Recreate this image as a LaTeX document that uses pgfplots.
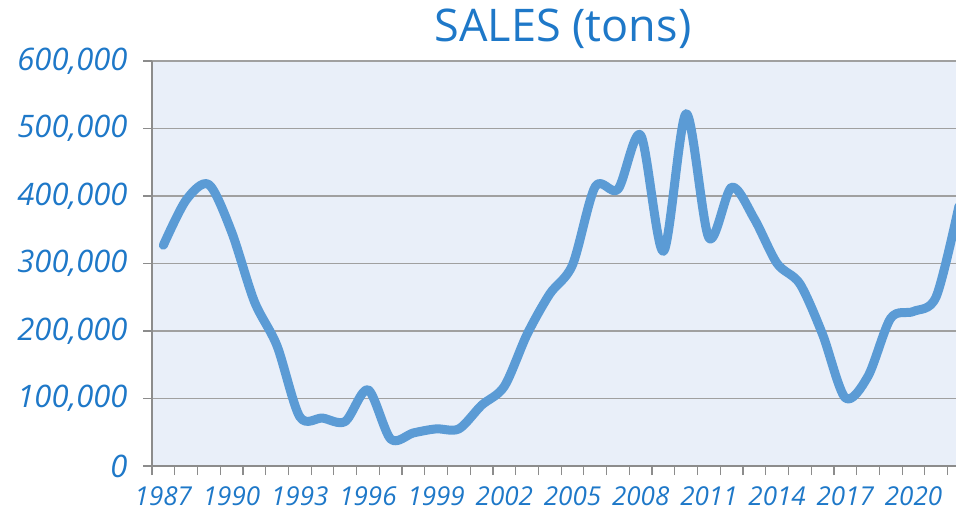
\documentclass[border=0pt]{standalone}
\usepackage{fontspec}
\setmainfont{Open Sans}
\usepackage{pgfplots}
\pgfplotsset{compat=1.18}
\definecolor{tblue}{RGB}{30,120,200}
\definecolor{bgblue}{RGB}{233,239,249}
\definecolor{gridgray}{RGB}{160,160,160}
\definecolor{axisgray}{RGB}{140,140,140}
\definecolor{lineblue}{RGB}{91,155,213}
\pgfplotstableread{
year sales
1987 327000
1988 394000
1989 417000
1990 347000
1991 244000
1992 178000
1993 73000
1994 71000
1995 66000
1996 113000
1997 40000
1998 49000
1999 55000
2000 55000
2001 90000
2002 118000
2003 195000
2004 255000
2005 298000
2006 414000
2007 410000
2008 490000
2009 318000
2010 522000
2011 338000
2012 413000
2013 366000
2014 300000
2015 270000
2016 195000
2017 101000
2018 133000
2019 219000
2020 229000
2021 251000
2022 385000
}\sales
\begin{document}
\begin{tikzpicture}[x=1pt,y=1pt]
\begin{axis}[
  at={(152pt,46pt)}, anchor=south west,
  scale only axis, width=804pt, height=405pt,
  xmin=1986.5, xmax=2021.87, ymin=0, ymax=600000,
  axis x line*=bottom, axis y line*=left,
  axis line style={-, draw=axisgray, line width=1.2pt},
  axis background/.style={fill=bgblue},
  tick align=outside, major tick length=9pt,
  tick style={draw=axisgray, line width=1.2pt},
  ytick={0,100000,200000,300000,400000,500000,600000},
  yticklabels={0,{100,000},{200,000},{300,000},{400,000},{500,000},{600,000}},
  scaled y ticks=false,
  yticklabel style={font=\fontsize{31}{31}\selectfont\itshape, text=tblue, xshift=-12pt},
  ymajorgrids, grid style={draw=gridgray, line width=1.5pt},
  xtick={1986.5,1987.5,...,2021.5},
  xticklabels={},
  extra x ticks={1987,1990,1993,1996,1999,2002,2005,2008,2011,2014,2017,2020},
  extra x tick labels={1987,1990,1993,1996,1999,2002,2005,2008,2011,2014,2017,2020},
  extra x tick style={major tick length=0pt},
  xticklabel style={font=\fontsize{26}{26}\selectfont\itshape, text=tblue, yshift=-17pt},
]
\addplot[no marks, line width=9pt, color=lineblue, smooth, line join=round, line cap=round] table[x=year, y=sales] {\sales};
\end{axis}
\node[font=\fontsize{45}{45}\selectfont, text=tblue, anchor=base] at (563pt,470pt) {SALES (tons)};
\pgfresetboundingbox
\path (0,0) rectangle (956pt,512pt);
\end{tikzpicture}
\end{document}
